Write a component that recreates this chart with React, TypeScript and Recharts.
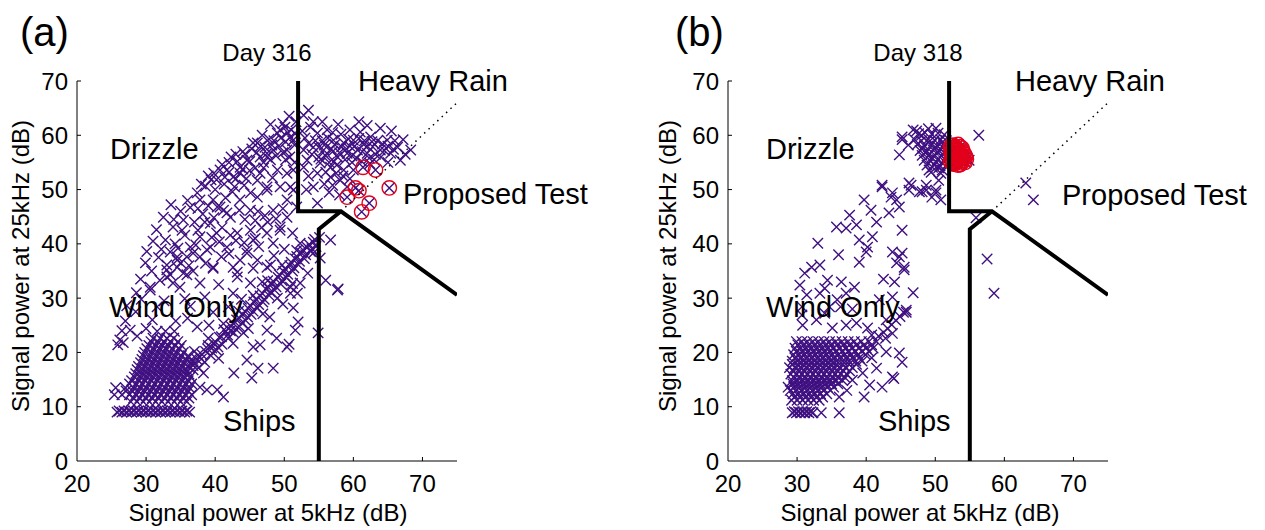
import React from 'react';
import { ScatterChart, Scatter, XAxis, YAxis } from 'recharts';

type Pt = [number, number];

const PURPLE = '#3f1080';
const RED = '#e3001b';
const FONT = '"Liberation Sans", Arial, Helvetica, sans-serif';

const xTicks = [20, 30, 40, 50, 60, 70];
const yTicks = [0, 10, 20, 30, 40, 50, 60, 70];

// decision boundaries (5 kHz dB, 25 kHz dB)
const upperEdge: Pt[] = [[52, 70], [52, 46], [58.2, 46], [75, 30.6]];
const lowerEdge: Pt[] = [[58.2, 46], [55, 42.7], [55, 0]];
const rainLine: Pt[] = [[58.2, 46], [75, 66]];

// ---- Day 316 ----
const d316Row: Pt[] = [
  [25.8, 9], [26.5, 9], [27.2, 9], [27.9, 9], [28.6, 9], [29.3, 9], [30.0, 9], [30.7, 9],
  [31.4, 9], [32.1, 9], [32.8, 9], [33.5, 9], [34.2, 9], [34.9, 9], [35.6, 9], [36.3, 9],
  [26.1, 9.2], [26.8, 9.2], [27.5, 9.2], [28.2, 9.2], [28.9, 9.2], [29.6, 9.2], [30.3, 9.2], [31.0, 9.2],
  [31.7, 9.2], [32.4, 9.2], [33.1, 9.2], [33.8, 9.2], [34.5, 9.2], [35.2, 9.2], [35.9, 9.2],
];

const d316Core: Pt[] = [
  [27.8, 10.9], [28.7, 10.9], [29.6, 10.9], [30.5, 10.9], [31.4, 10.9], [32.3, 10.9], [33.2, 10.9], [34.1, 10.9], [35.0, 10.9], [35.9, 10.9],
  [25.4, 12.2], [26.5, 12.2], [27.6, 12.2], [28.5, 12.2], [29.4, 12.2], [30.3, 12.2], [31.2, 12.2], [32.1, 12.2], [33.0, 12.2], [33.9, 12.2], [34.8, 12.2], [35.7, 12.2], [36.6, 12.2],
  [25.6, 13.5], [27.0, 13.5], [28.2, 13.5], [29.1, 13.5], [30.0, 13.5], [30.9, 13.5], [31.8, 13.5], [32.7, 13.5], [33.6, 13.5], [34.5, 13.5], [35.4, 13.5], [36.3, 13.5],
  [27.9, 14.8], [28.9, 14.8], [29.8, 14.8], [30.7, 14.8], [31.6, 14.8], [32.5, 14.8], [33.4, 14.8], [34.3, 14.8], [35.2, 14.8], [36.1, 14.8],
  [28.5, 16.1], [29.4, 16.1], [30.3, 16.1], [31.2, 16.1], [32.1, 16.1], [33.0, 16.1], [33.9, 16.1], [34.8, 16.1], [35.7, 16.1],
  [28.9, 17.4], [29.8, 17.4], [30.7, 17.4], [31.6, 17.4], [32.5, 17.4], [33.4, 17.4], [34.3, 17.4], [35.2, 17.4], [36.1, 17.4],
  [29.4, 18.7], [30.3, 18.7], [31.2, 18.7], [32.1, 18.7], [33.0, 18.7], [33.9, 18.7], [34.8, 18.7], [35.8, 18.7],
  [29.8, 20.0], [30.8, 20.0], [31.7, 20.0], [32.6, 20.0], [33.5, 20.0], [34.4, 20.0], [35.4, 20.0],
  [30.4, 21.3], [31.4, 21.3], [32.3, 21.3], [33.2, 21.3], [34.2, 21.3], [35.1, 21.3],
  [31.0, 22.6], [32.0, 22.6], [33.0, 22.6], [34.0, 22.6],
  [31.6, 23.9], [32.8, 23.9], [34.1, 23.9],
];

const d316CoreFill: Pt[] = [
  [28.2, 11.6], [29.1, 11.6], [30.0, 11.6], [30.9, 11.6], [31.8, 11.6], [32.7, 11.6], [33.6, 11.6], [34.5, 11.6], [35.4, 11.6], [36.2, 11.6],
  [27.1, 12.9], [28.0, 12.9], [28.9, 12.9], [29.8, 12.9], [30.7, 12.9], [31.6, 12.9], [32.5, 12.9], [33.4, 12.9], [34.3, 12.9], [35.2, 12.9], [36.1, 12.9],
  [27.6, 14.2], [28.6, 14.2], [29.5, 14.2], [30.4, 14.2], [31.3, 14.2], [32.2, 14.2], [33.1, 14.2], [34.0, 14.2], [34.9, 14.2], [35.8, 14.2], [36.6, 14.2],
  [28.3, 15.5], [29.2, 15.5], [30.1, 15.5], [31.0, 15.5], [31.9, 15.5], [32.8, 15.5], [33.7, 15.5], [34.6, 15.5], [35.5, 15.5], [36.4, 15.5],
  [28.7, 16.8], [29.6, 16.8], [30.5, 16.8], [31.4, 16.8], [32.3, 16.8], [33.2, 16.8], [34.1, 16.8], [35.0, 16.8], [35.9, 16.8], [36.8, 16.8],
  [29.2, 18.1], [30.1, 18.1], [31.0, 18.1], [31.9, 18.1], [32.8, 18.1], [33.7, 18.1], [34.6, 18.1], [35.5, 18.1], [36.5, 18.1],
  [29.6, 19.4], [30.6, 19.4], [31.5, 19.4], [32.4, 19.4], [33.3, 19.4], [34.2, 19.4], [35.1, 19.4], [36.1, 19.4],
  [30.1, 20.7], [31.1, 20.7], [32.0, 20.7], [32.9, 20.7], [33.8, 20.7], [34.8, 20.7],
  [30.7, 22.0], [31.7, 22.0], [32.6, 22.0], [33.5, 22.0], [34.6, 22.0],
];

const d316Band: Pt[] = [
  [36.2, 16.0], [36.8, 17.6], [37.3, 18.8], [37.6, 17.2], [38.1, 19.6], [38.5, 18.2], [38.9, 20.7], [39.3, 19.5],
  [39.8, 21.6], [40.2, 20.4], [40.6, 22.8], [41.0, 21.5], [41.5, 23.9], [41.9, 22.6], [42.3, 24.8], [42.7, 23.6],
  [43.1, 26.0], [43.5, 24.8], [44.0, 27.0], [44.4, 25.9], [44.8, 28.1], [45.2, 27.0], [45.6, 29.3], [46.1, 28.2],
  [46.5, 30.4], [46.9, 29.3], [47.4, 31.6], [47.8, 30.5], [48.2, 32.6], [48.6, 31.5], [49.1, 33.8], [49.5, 32.6],
  [49.9, 34.9], [50.3, 33.8], [50.8, 36.0], [51.2, 35.0], [51.6, 37.2], [52.0, 36.2], [52.5, 38.3], [52.9, 37.3],
  [53.3, 39.4], [53.8, 38.6], [54.2, 40.3], [54.6, 39.5], [55.1, 41.2], [37.0, 20.2], [39.0, 22.6], [41.2, 25.3],
  [43.4, 27.6], [45.5, 30.5], [47.6, 33.2], [49.7, 36.1], [51.8, 38.8], [38.3, 16.2], [40.5, 18.9], [42.6, 21.7],
  [44.8, 24.4], [46.9, 27.1], [49.0, 30.0], [51.2, 32.7],
  [36.5, 18.6], [37.0, 18.0], [37.5, 19.5], [38.0, 18.8], [38.6, 20.2], [39.0, 21.3], [39.5, 20.8], [40.0, 22.0],
  [40.4, 21.0], [40.9, 22.9], [41.3, 24.2], [41.8, 23.2], [42.2, 24.0], [42.6, 25.4], [43.0, 24.3], [43.5, 26.3],
  [43.9, 25.4], [44.3, 27.6], [44.7, 26.5], [45.1, 28.6], [45.5, 27.6], [45.9, 29.8], [46.3, 28.8], [46.8, 30.9],
  [47.1, 29.8], [47.6, 32.1], [48.0, 31.1], [48.4, 33.1], [48.8, 32.1], [49.3, 34.3], [49.7, 33.2], [50.1, 35.4],
  [50.5, 34.4], [51.0, 36.6], [51.4, 35.6], [51.8, 37.7], [52.2, 36.8], [52.7, 38.9], [53.1, 38.0], [53.6, 39.9],
  [54.0, 39.1], [54.4, 40.8],
];

const d316Spread: Pt[] = [
  [27.7, 24.1], [25.9, 21.4], [26.2, 22.3], [26.7, 21.8], [30.9, 26.0], [30.6, 32.0], [31.6, 28.4], [34.9, 32.0],
  [35.9, 34.3], [37.8, 32.8], [39.7, 35.5], [43.2, 34.8], [45.1, 32.8], [46.8, 33.0], [45.5, 35.5], [48.0, 36.1],
  [50.9, 32.0], [52.3, 32.8], [51.9, 30.9], [51.3, 28.2], [52.0, 25.6], [51.6, 24.1], [50.4, 21.0], [50.7, 21.5],
  [48.4, 17.1], [46.2, 17.1], [44.6, 18.6], [45.5, 21.0], [46.5, 21.4], [47.5, 24.1], [44.1, 23.6], [41.2, 11.8],
  [40.3, 13.1], [38.8, 13.1], [37.8, 13.6], [56.0, 33.3], [57.8, 31.7], [54.9, 23.6], [55.2, 37.4], [54.2, 38.3],
  [42.6, 30.9], [41.9, 28.4], [39.7, 27.4], [37.4, 24.7], [33.0, 36.1], [33.5, 34.3], [34.5, 37.6], [32.0, 33.3],
  [28.5, 27.5], [29.3, 29.8], [27.2, 28.6], [32.6, 29.5], [36.4, 28.5], [38.5, 30.2], [40.5, 32.5], [36.0, 26.3],
  [34.3, 25.8], [39.1, 25.0], [43.8, 29.8], [47.9, 26.5], [49.8, 28.9], [53.4, 34.6], [48.9, 22.6], [45.3, 15.3],
  [42.7, 16.2], [35.6, 29.9], [30.0, 24.4], [28.7, 23.0],
];

const d316Drizzle: Pt[] = [
  [32.5, 44.9], [32.8, 40.7], [30.1, 38.6], [29.9, 36.5], [30.6, 31.5], [34.5, 37.0], [33.9, 43.1], [35.4, 44.4],
  [37.4, 49.4], [37.8, 48.1], [40.3, 46.8], [41.2, 46.2], [42.2, 44.9], [40.7, 53.6], [41.7, 53.6], [42.6, 52.3],
  [43.6, 54.1], [44.6, 55.4], [45.5, 58.6], [46.5, 56.0], [47.5, 56.7], [48.4, 57.3], [49.4, 61.0], [50.1, 61.5],
  [49.0, 53.6], [50.4, 53.0], [50.9, 50.5], [46.1, 51.7], [47.5, 49.9], [45.1, 49.4], [43.6, 48.1], [43.2, 42.0],
  [45.1, 42.5], [47.5, 42.0], [49.4, 42.5], [50.4, 48.1], [41.7, 39.4], [39.3, 39.4], [37.8, 37.6], [36.4, 39.4],
  [35.4, 34.6], [33.0, 33.9], [44.6, 38.3], [46.1, 37.0], [51.2, 42.0], [52.3, 40.1], [56.7, 40.7], [57.7, 31.5],
  [50.9, 30.9], [35.2, 42.5], [35.6, 41.6], [41.4, 52.3], [43.6, 53.0], [46.1, 58.6], [47.5, 56.0], [49.0, 60.4],
  [50.9, 59.7], [50.4, 57.3], [51.3, 53.6], [51.3, 49.9], [49.4, 50.5], [47.5, 50.5], [46.1, 48.6], [45.1, 46.2],
  [48.4, 46.2], [50.4, 44.9], [41.7, 45.7], [40.7, 46.8], [39.7, 48.1], [39.3, 43.8], [37.8, 41.3], [36.8, 38.3],
  [38.8, 38.9], [35.9, 37.6], [34.5, 35.7], [33.0, 35.2], [33.9, 32.8], [39.7, 35.7], [42.6, 35.7], [43.2, 33.9],
  [45.5, 40.7], [44.6, 38.9], [48.4, 40.1], [49.4, 43.1], [47.5, 35.7], [38.6, 50.6], [39.4, 51.8], [42.0, 55.0],
  [44.0, 57.0], [45.0, 53.5], [48.5, 59.0], [51.5, 58.2], [50.2, 55.5], [47.0, 54.0], [44.2, 50.8], [42.5, 49.6],
  [38.2, 45.5], [36.4, 46.7], [34.2, 40.0], [31.5, 42.6], [33.6, 47.2], [48.3, 52.2], [51.7, 62.5], [50.7, 63.5],
  [48.0, 62.0], [46.8, 60.0], [43.0, 56.5], [40.0, 50.0], [37.0, 44.0], [45.8, 44.3], [47.2, 45.2], [51.8, 46.8],
  [50.0, 39.0], [48.5, 37.8], [46.3, 39.5], [43.0, 40.6], [40.2, 42.0], [38.6, 36.4], [36.8, 35.0], [40.9, 37.6],
];

const d316Ridge: Pt[] = [
  [38.0, 51.0], [39.0, 52.5], [39.8, 53.0], [40.2, 51.8], [41.0, 54.6], [41.3, 51.0], [42.0, 53.2], [42.3, 56.0],
  [43.0, 52.0], [43.2, 55.2], [44.0, 53.8], [44.3, 56.5], [45.0, 55.2], [45.3, 57.5], [45.8, 54.0], [46.0, 56.8],
  [46.6, 58.0], [47.0, 55.0], [47.2, 57.8], [47.8, 59.3], [48.0, 55.5], [48.2, 58.2], [48.8, 56.2], [49.2, 58.0],
  [49.5, 59.5], [49.8, 56.8], [50.2, 58.8], [50.5, 60.5], [50.8, 56.0], [51.0, 61.0], [51.2, 59.0], [51.6, 60.3],
  [51.5, 55.0], [49.8, 62.2], [46.5, 53.0], [44.5, 52.0], [42.8, 50.5], [41.5, 48.5], [39.0, 47.0], [37.5, 46.5],
  [31.0, 40.5], [31.8, 37.5], [32.2, 39.0], [33.5, 38.5], [34.6, 39.2], [35.0, 36.5], [36.2, 36.0], [37.2, 39.8],
  [37.5, 42.5], [38.5, 44.0], [39.8, 44.8], [39.5, 41.2], [40.6, 40.4], [41.0, 43.0], [42.2, 41.6], [42.0, 38.2],
  [43.6, 37.0], [44.2, 40.2], [45.8, 41.0], [46.7, 43.0], [47.6, 44.0], [48.8, 44.6], [49.8, 46.5], [46.2, 46.0],
  [44.3, 44.5], [43.5, 46.2], [36.0, 48.0], [35.0, 46.0], [34.0, 44.5], [30.8, 35.0], [29.2, 33.5], [28.6, 31.0],
  [27.0, 25.8], [26.5, 24.0],
];

const d316Heavy: Pt[] = [
  [52.8, 63.7], [53.5, 64.6], [54.8, 60.4], [56.2, 61.0], [57.1, 59.1], [58.6, 58.6], [60.0, 59.1], [61.0, 60.6],
  [62.5, 59.7], [63.9, 61.3], [64.9, 59.1], [66.4, 57.8], [68.3, 57.3], [66.8, 55.4], [65.4, 56.7], [63.9, 57.3],
  [62.0, 56.7], [60.6, 57.3], [59.1, 56.7], [57.7, 56.0], [55.7, 57.3], [54.2, 57.8], [52.8, 57.3], [53.3, 55.4],
  [55.2, 54.9], [56.7, 54.1], [58.6, 53.6], [60.0, 53.6], [58.1, 51.7], [56.7, 52.3], [54.8, 53.0], [52.8, 54.1],
  [59.1, 50.5], [54.2, 50.5], [54.8, 47.5], [53.0, 59.5], [53.8, 61.5], [55.5, 59.0], [56.8, 57.5], [58.2, 60.2],
  [59.5, 58.0], [61.5, 58.3], [62.8, 57.9], [64.2, 58.4], [67.2, 59.2], [65.0, 55.0], [63.0, 55.5], [61.2, 55.2],
  [59.8, 55.0], [57.2, 55.2], [55.0, 56.0], [53.5, 52.5], [55.8, 51.0], [57.5, 53.0], [52.6, 60.8], [54.2, 62.5],
  [57.8, 62.0], [60.8, 62.5], [59.5, 61.0], [62.0, 61.8], [65.5, 60.8], [56.5, 49.5], [53.2, 50.0], [58.0, 49.0],
  [62.4, 54.8],
  [53.5, 58.5], [54.0, 56.5], [54.5, 59.0], [55.0, 57.8], [55.3, 55.6], [55.8, 58.2], [56.0, 56.2], [56.3, 59.5],
  [56.5, 55.0], [57.0, 57.0], [57.3, 58.3], [57.6, 54.5], [58.0, 56.8], [58.3, 57.9], [58.8, 55.5], [59.0, 57.5],
  [59.3, 59.3], [59.8, 56.2], [60.2, 58.0], [60.5, 55.8], [60.8, 59.4], [61.3, 57.0], [61.6, 59.0], [62.0, 58.0],
  [62.3, 55.8], [62.7, 58.8], [63.2, 56.5], [63.5, 59.0], [64.0, 56.0], [64.5, 57.2], [65.0, 58.0], [65.8, 57.4],
  [66.0, 59.0], [67.5, 56.5], [56.0, 53.2], [57.0, 50.8], [58.5, 52.5], [59.5, 52.0], [55.5, 62.5], [57.0, 60.5],
];

const d316Test: Pt[] = [
  [61.4, 54.1], [63.2, 53.6], [65.2, 50.3], [60.3, 50.3], [60.8, 49.8], [59.1, 48.6], [62.3, 47.5], [61.2, 45.9],
];

// ---- Day 318 ----
const d318Row: Pt[] = [
  [29.3, 8.9], [29.9, 8.9], [30.5, 8.9], [31.1, 8.9], [31.7, 8.9], [32.3, 8.9], [33.5, 8.9], [36.1, 8.9],
  [29.6, 9.1], [30.2, 9.1], [30.8, 9.1], [31.4, 9.1], [32.0, 9.1],
];

const d318Core: Pt[] = [
  [29.2, 11.2], [30.0, 11.2], [30.8, 11.2], [31.6, 11.2], [32.4, 11.2], [33.2, 11.2],
  [29.4, 12.4], [30.2, 12.4], [31.0, 12.4], [31.8, 12.4], [32.6, 12.4], [33.4, 12.4], [34.3, 12.4],
  [28.7, 13.6], [29.6, 13.6], [30.4, 13.6], [31.2, 13.6], [32.0, 13.6], [32.8, 13.6], [33.6, 13.6], [34.4, 13.6], [35.3, 13.6],
  [29.3, 14.8], [30.1, 14.8], [30.9, 14.8], [31.7, 14.8], [32.5, 14.8], [33.3, 14.8], [34.1, 14.8], [34.9, 14.8], [35.7, 14.8], [36.6, 14.8],
  [29.1, 16.0], [29.9, 16.0], [30.7, 16.0], [31.5, 16.0], [32.3, 16.0], [33.1, 16.0], [33.9, 16.0], [34.7, 16.0], [35.5, 16.0], [36.3, 16.0], [37.2, 16.0],
  [28.9, 17.2], [29.7, 17.2], [30.5, 17.2], [31.3, 17.2], [32.1, 17.2], [32.9, 17.2], [33.7, 17.2], [34.5, 17.2], [35.3, 17.2], [36.1, 17.2], [37.0, 17.2], [38.0, 17.2],
  [29.3, 18.4], [30.1, 18.4], [30.9, 18.4], [31.7, 18.4], [32.5, 18.4], [33.3, 18.4], [34.1, 18.4], [34.9, 18.4], [35.7, 18.4], [36.6, 18.4], [37.5, 18.4], [38.5, 18.4], [39.4, 18.4],
  [29.5, 19.6], [30.3, 19.6], [31.1, 19.6], [31.9, 19.6], [32.7, 19.6], [33.5, 19.6], [34.3, 19.6], [35.1, 19.6], [36.0, 19.6], [36.9, 19.6], [37.8, 19.6], [38.8, 19.6], [39.9, 19.6],
  [29.7, 20.8], [30.5, 20.8], [31.3, 20.8], [32.1, 20.8], [32.9, 20.8], [33.7, 20.8], [34.5, 20.8], [35.3, 20.8], [36.2, 20.8], [37.1, 20.8], [38.0, 20.8], [39.0, 20.8], [40.0, 20.8], [41.0, 20.8],
  [29.9, 22.0], [30.7, 22.0], [31.5, 22.0], [32.3, 22.0], [33.1, 22.0], [33.9, 22.0], [34.7, 22.0], [35.6, 22.0], [36.5, 22.0], [37.4, 22.0], [38.3, 22.0], [39.3, 22.0], [40.4, 22.0], [41.5, 22.0],
  [41.8, 23.0], [42.5, 23.7], [43.1, 24.4], [43.7, 25.1], [44.3, 25.9], [44.9, 26.6], [42.8, 22.6], [43.8, 23.5], [40.8, 23.2], [45.4, 27.4],
];

const d318CoreFill: Pt[] = [
  [29.6, 11.8], [30.4, 11.8], [31.2, 11.8], [32.0, 11.8], [32.8, 11.8], [33.7, 11.8],
  [29.0, 13.0], [29.8, 13.0], [30.6, 13.0], [31.4, 13.0], [32.2, 13.0], [33.0, 13.0], [33.8, 13.0], [34.8, 13.0],
  [29.4, 14.2], [30.2, 14.2], [31.0, 14.2], [31.8, 14.2], [32.6, 14.2], [33.4, 14.2], [34.2, 14.2], [35.0, 14.2], [35.9, 14.2],
  [29.5, 15.4], [30.3, 15.4], [31.1, 15.4], [31.9, 15.4], [32.7, 15.4], [33.5, 15.4], [34.3, 15.4], [35.1, 15.4], [35.9, 15.4], [36.9, 15.4],
  [29.5, 16.6], [30.3, 16.6], [31.1, 16.6], [31.9, 16.6], [32.7, 16.6], [33.5, 16.6], [34.3, 16.6], [35.1, 16.6], [35.9, 16.6], [36.7, 16.6], [37.6, 16.6],
  [29.3, 17.8], [30.1, 17.8], [30.9, 17.8], [31.7, 17.8], [32.5, 17.8], [33.3, 17.8], [34.1, 17.8], [34.9, 17.8], [35.7, 17.8], [36.6, 17.8], [37.5, 17.8], [38.6, 17.8],
  [29.7, 19.0], [30.5, 19.0], [31.3, 19.0], [32.1, 19.0], [32.9, 19.0], [33.7, 19.0], [34.5, 19.0], [35.3, 19.0], [36.2, 19.0], [37.1, 19.0], [38.0, 19.0], [39.0, 19.0],
  [29.9, 20.2], [30.7, 20.2], [31.5, 20.2], [32.3, 20.2], [33.1, 20.2], [33.9, 20.2], [34.7, 20.2], [35.6, 20.2], [36.5, 20.2], [37.4, 20.2], [38.4, 20.2], [39.4, 20.2], [40.4, 20.2],
  [30.1, 21.4], [30.9, 21.4], [31.7, 21.4], [32.5, 21.4], [33.3, 21.4], [34.1, 21.4], [34.9, 21.4], [35.8, 21.4], [36.7, 21.4], [37.6, 21.4], [38.6, 21.4], [39.7, 21.4], [40.8, 21.4],
];

const d318Spread: Pt[] = [
  [43.8, 15.5], [44.0, 15.2], [42.3, 13.6], [42.9, 20.1], [44.8, 19.9], [45.2, 18.2], [41.5, 17.1], [39.5, 16.2],
  [38.0, 14.9], [36.1, 11.8], [39.7, 11.8], [32.8, 26.0], [30.8, 25.0], [35.1, 24.5], [37.1, 25.0], [40.2, 24.5],
  [38.6, 25.4], [42.9, 26.0], [45.8, 27.4], [30.7, 26.9], [34.0, 27.2], [36.3, 28.4], [40.5, 14.0], [37.2, 13.0],
  [40.8, 19.0],
  [44.8, 56.4], [45.2, 59.7], [46.5, 50.8], [43.6, 48.6], [42.3, 50.5], [48.7, 49.9], [50.1, 49.9], [50.8, 48.1],
  [49.5, 48.6], [44.4, 48.1], [44.8, 46.8], [39.7, 48.1], [40.7, 46.2], [43.3, 45.7], [37.6, 45.3], [35.7, 43.1],
  [37.1, 42.9], [38.6, 43.5], [33.0, 40.1], [45.2, 42.5], [40.9, 41.3], [40.2, 39.4], [39.0, 40.7], [43.8, 38.5],
  [44.8, 37.6], [40.0, 38.5], [39.0, 36.6], [32.1, 35.7], [33.3, 36.1], [31.1, 34.6], [34.4, 33.3], [36.4, 33.0],
  [44.4, 36.5], [45.5, 35.2], [44.1, 33.0], [30.4, 32.4], [31.4, 30.6], [33.3, 30.9], [37.1, 30.9], [35.8, 29.7],
  [43.8, 30.2], [45.8, 27.8], [30.7, 28.4], [34.7, 28.4], [38.3, 32.0], [41.9, 29.7], [55.9, 44.8], [57.5, 37.2],
  [58.5, 30.9], [56.3, 60.0], [51.0, 53.6], [49.4, 53.2], [50.5, 51.7], [46.2, 49.9], [48.7, 50.8], [42.3, 50.8],
  [43.8, 49.4], [48.1, 49.6], [63.1, 51.2], [64.2, 48.1], [45.2, 38.3], [45.5, 35.7], [46.2, 51.2], [50.1, 49.4],
  [47.7, 49.6], [54.9, 55.4], [41.5, 44.0], [36.0, 38.0], [34.0, 31.8], [42.5, 33.5], [46.8, 31.0], [38.0, 28.0],
];

const d318Drizzle: Pt[] = [
  [47.6, 60.3], [48.5, 60.5], [49.5, 60.2], [50.4, 60.4], [51.3, 60.1], [45.2, 59.2], [47.0, 59.2], [48.0, 59.0],
  [49.0, 59.3], [49.9, 59.1], [50.8, 59.2], [51.6, 59.0], [46.1, 58.2], [47.4, 58.3], [48.4, 58.1], [49.4, 58.2],
  [50.3, 58.0], [51.2, 58.2], [47.8, 57.2], [48.8, 57.1], [49.7, 57.3], [50.6, 57.1], [51.5, 57.2], [48.1, 56.3],
  [49.0, 56.2], [49.9, 56.4], [50.9, 56.2], [51.8, 56.3], [48.4, 55.4], [49.3, 55.3], [50.3, 55.5], [51.2, 55.3],
  [48.8, 54.5], [49.8, 54.6], [50.7, 54.4], [51.7, 54.6], [49.1, 53.6], [50.5, 54.0], [50.8, 53.0], [46.8, 61.0],
  [49.0, 61.2], [50.1, 61.3], [48.0, 60.0], [49.0, 58.7], [50.0, 57.8], [51.0, 58.7], [48.6, 56.8], [50.4, 56.8],
  [49.5, 55.9], [51.3, 56.8], [48.2, 57.6], [49.6, 54.1], [51.0, 54.9], [47.3, 60.8],
];

const d318Test: Pt[] = [
  [52.2, 57.8], [52.6, 58.2], [53.1, 57.6], [53.6, 57.9], [52.3, 56.7], [52.9, 56.5], [53.4, 56.9], [54.0, 57.1],
  [52.4, 55.6], [53.0, 55.3], [53.5, 55.9], [54.1, 56.0], [54.5, 55.6], [52.7, 54.7], [53.3, 54.5], [53.8, 54.9],
  [54.3, 55.0], [52.2, 55.2], [53.2, 56.1], [52.8, 57.2], [52.4, 57.0], [52.9, 57.9], [53.3, 58.3], [53.9, 57.6],
  [54.2, 56.6], [53.7, 56.4], [53.0, 56.9], [52.5, 56.2], [52.9, 55.8], [53.4, 55.5], [54.0, 55.4], [53.6, 54.6],
  [53.0, 54.9], [52.5, 54.8], [52.3, 58.1], [54.4, 56.1], [53.8, 55.3], [52.7, 55.5], [53.3, 57.3], [52.6, 57.6],
];

const toPts = (arr: Pt[]) => arr.map(([x, y]) => ({ x, y }));

const Cross = (props: any) => {
  const { cx, cy } = props;
  if (cx == null || cy == null) return <g />;
  const s = 5.2;
  return (
    <path
      d={`M${cx - s},${cy - s}L${cx + s},${cy + s}M${cx - s},${cy + s}L${cx + s},${cy - s}`}
      stroke={PURPLE}
      strokeWidth={1.4}
      fill="none"
    />
  );
};

const Ring = (props: any) => {
  const { cx, cy } = props;
  if (cx == null || cy == null) return <g />;
  return <circle cx={cx} cy={cy} r={7.2} stroke={RED} strokeWidth={1.4} fill="none" />;
};

const Blank = () => <g />;

const XTick = (props: any) => {
  const { x, y, payload } = props;
  return (
    <g>
      {payload.value !== 20 && <line x1={x} x2={x} y1={y} y2={y - 4} stroke="#000" />}
      <text x={x} y={y + 31} textAnchor="middle" fontSize={24} fontFamily={FONT} fill="#000">
        {payload.value}
      </text>
    </g>
  );
};

const YTick = (props: any) => {
  const { x, y, payload } = props;
  return (
    <g>
      {payload.value !== 0 && <line x1={x} x2={x + 4} y1={y} y2={y} stroke="#000" />}
      <text x={x - 9} y={y + 8.6} textAnchor="end" fontSize={24} fontFamily={FONT} fill="#000">
        {payload.value}
      </text>
    </g>
  );
};

interface PanelProps {
  left: number;
  crosses: Pt[][];
  rings: Pt[];
}

function Panel({ left, crosses, rings }: PanelProps) {
  return (
    <div style={{ position: 'absolute', left, top: 0 }}>
      <ScatterChart width={614} height={530} margin={{ top: 81, right: 157, bottom: 29, left: 17 }}>
        <XAxis
          type="number"
          dataKey="x"
          domain={[20, 75]}
          ticks={xTicks}
          interval={0}
          height={40}
          axisLine={{ stroke: '#000', strokeWidth: 1 }}
          tickLine={false}
          tickSize={0}
          tickMargin={0}
          tick={XTick}
          allowDataOverflow
        />
        <YAxis
          type="number"
          dataKey="y"
          domain={[0, 70]}
          ticks={yTicks}
          interval={0}
          width={60}
          axisLine={{ stroke: '#000', strokeWidth: 1 }}
          tickLine={false}
          tickSize={0}
          tickMargin={0}
          tick={YTick}
          allowDataOverflow
        />
        {crosses.map((set, i) => (
          <Scatter key={i} data={toPts(set)} shape={Cross} isAnimationActive={false} />
        ))}
        <Scatter data={toPts(rings)} shape={Cross} isAnimationActive={false} />
        <Scatter data={toPts(rings)} shape={Ring} isAnimationActive={false} />
        <Scatter
          data={toPts(rainLine)}
          shape={Blank}
          line={{ stroke: '#000', strokeWidth: 1.5, strokeDasharray: '1.5 4.5' }}
          lineType="joint"
          isAnimationActive={false}
        />
        <Scatter
          data={toPts(upperEdge)}
          shape={Blank}
          line={{ stroke: '#000', strokeWidth: 4, fill: 'none' }}
          lineType="joint"
          isAnimationActive={false}
        />
        <Scatter
          data={toPts(lowerEdge)}
          shape={Blank}
          line={{ stroke: '#000', strokeWidth: 4, fill: 'none' }}
          lineType="joint"
          isAnimationActive={false}
        />
      </ScatterChart>
    </div>
  );
}

const Label = ({ x, y, size = 29, anchor = 'start', children }: any) => (
  <text x={x} y={y} fontSize={size} textAnchor={anchor} fontFamily={FONT} fill="#000">
    {children}
  </text>
);

export default function App() {
  return (
    <div style={{ position: 'absolute', left: 0, top: 0, width: 1265, height: 530, background: '#fff' }}>
      <Panel
        left={0}
        crosses={[d316Row, d316Core, d316CoreFill, d316Band, d316Spread, d316Drizzle, d316Ridge, d316Heavy]}
        rings={d316Test}
      />
      <Panel left={651} crosses={[d318Row, d318Core, d318CoreFill, d318Spread, d318Drizzle]} rings={d318Test} />
      <svg
        width={1265}
        height={530}
        style={{ position: 'absolute', left: 0, top: 0, pointerEvents: 'none' }}
      >
        <Label x={20} y={46} size={40}>(a)</Label>
        <Label x={267} y={61} size={24} anchor="middle">Day 316</Label>
        <Label x={358} y={91}>Heavy Rain</Label>
        <Label x={110} y={159}>Drizzle</Label>
        <Label x={403} y={204}>Proposed Test</Label>
        <Label x={109} y={317}>Wind Only</Label>
        <Label x={223} y={431}>Ships</Label>
        <Label x={268} y={521} size={24} anchor="middle">Signal power at 5kHz (dB)</Label>
        <text transform="translate(29,266) rotate(-90)" fontSize={24} textAnchor="middle" fontFamily={FONT}>
          Signal power at 25kHz (dB)
        </text>

        <Label x={675} y={46} size={40}>(b)</Label>
        <Label x={918} y={61} size={24} anchor="middle">Day 318</Label>
        <Label x={1015} y={91}>Heavy Rain</Label>
        <Label x={766} y={159}>Drizzle</Label>
        <Label x={1062} y={205}>Proposed Test</Label>
        <Label x={766} y={317}>Wind Only</Label>
        <Label x={878} y={431}>Ships</Label>
        <Label x={920} y={521} size={24} anchor="middle">Signal power at 5kHz (dB)</Label>
        <text transform="translate(676,266) rotate(-90)" fontSize={24} textAnchor="middle" fontFamily={FONT}>
          Signal power at 25kHz (dB)
        </text>
      </svg>
    </div>
  );
}
